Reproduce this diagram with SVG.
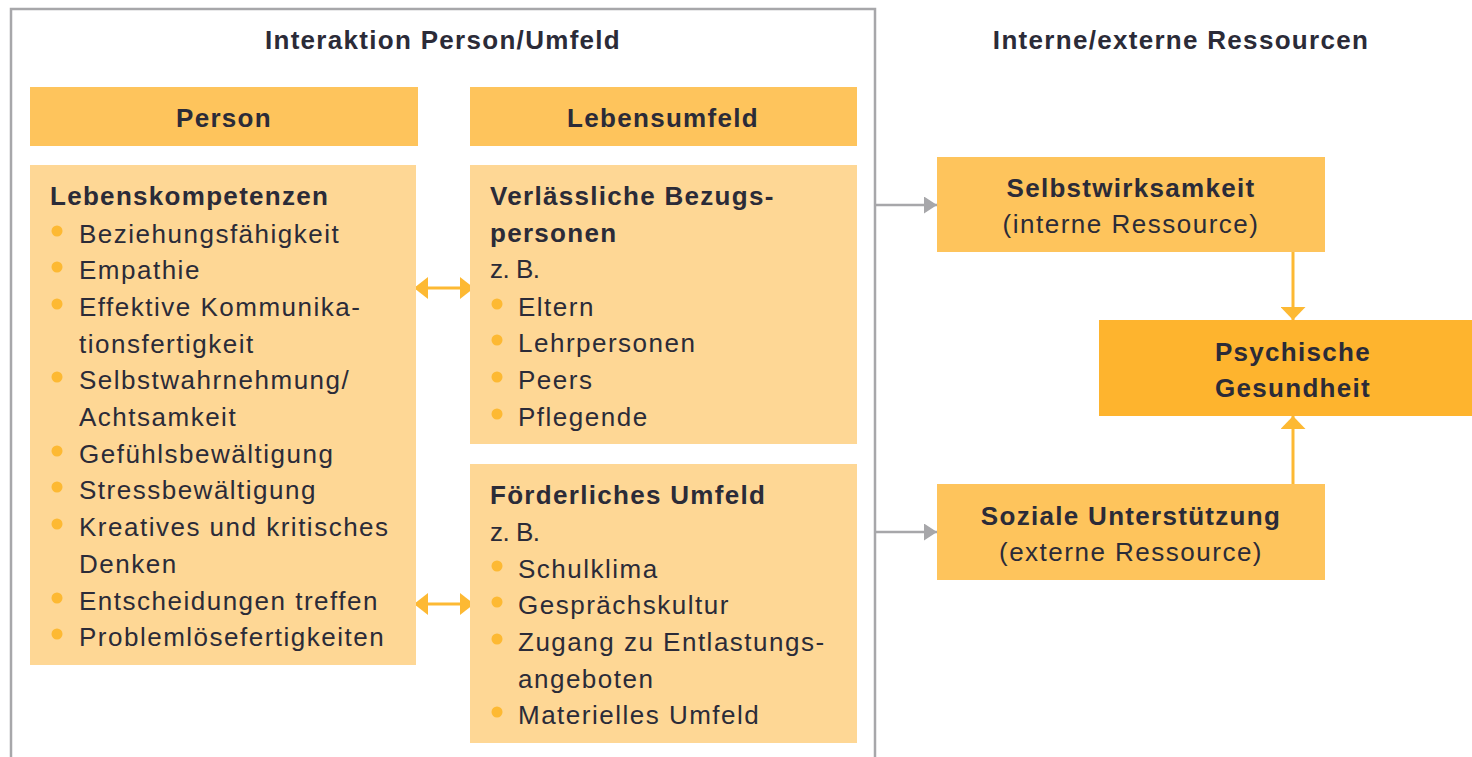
<svg xmlns="http://www.w3.org/2000/svg" width="1472" height="757" viewBox="0 0 1472 757">
<style>
text{font-family:"Liberation Sans",Arial,sans-serif;fill:#2b2b38;font-size:26px;letter-spacing:1.5px}
.b{font-weight:bold;letter-spacing:1.3px}
.c{text-anchor:middle}
.zb{letter-spacing:-0.5px}
.hd{fill:#fec45c}
.ct{fill:#fed795}
.ps{fill:#feb42e}
.dot{fill:#fdb933}
.ga{stroke:#a7a7aa;stroke-width:2.5;fill:none}
.oa{stroke:#fdb933;stroke-width:3;fill:none}
</style>
<defs>
<marker id="mg" viewBox="0 0 13 17" refX="13" refY="8.5" markerWidth="13" markerHeight="17" markerUnits="userSpaceOnUse" orient="auto"><path d="M0,0L13,8.5L0,17Z" fill="#a7a7aa"/></marker>
<marker id="mo" viewBox="0 0 14 22" refX="14" refY="11" markerWidth="14" markerHeight="22" markerUnits="userSpaceOnUse" orient="auto-start-reverse"><path d="M0,0L14,11L0,22Z" fill="#fdb933"/></marker>
<marker id="mv" viewBox="0 0 13 25" refX="13" refY="12.5" markerWidth="13" markerHeight="25" markerUnits="userSpaceOnUse" orient="auto"><path d="M0,0L13,12.5L0,25Z" fill="#fdb933"/></marker>
</defs>
<rect width="1472" height="757" fill="#fff"/>
<g id="frame">
<path d="M11,760V9H875V760" fill="none" stroke="#a7a7aa" stroke-width="2.5"/>
<text class="b c" x="443" y="49">Interaktion Person/Umfeld</text>
</g>
<text class="b c" x="1181" y="49">Interne/externe Ressourcen</text>
<g id="connectors">
<line class="oa" x1="414" y1="288" x2="474" y2="288" marker-start="url(#mo)" marker-end="url(#mo)"/>
<line class="oa" x1="414" y1="604" x2="474" y2="604" marker-start="url(#mo)" marker-end="url(#mo)"/>
<line class="ga" x1="876" y1="205" x2="937" y2="205" marker-end="url(#mg)"/>
<line class="ga" x1="876" y1="532" x2="937" y2="532" marker-end="url(#mg)"/>
<line class="oa" x1="1293" y1="252" x2="1293" y2="320" marker-end="url(#mv)"/>
<line class="oa" x1="1293" y1="484" x2="1293" y2="416" marker-end="url(#mv)"/>
</g>
<g id="person-header">
<rect class="hd" x="30" y="87" width="388" height="59"/>
<text class="b c" x="224" y="127">Person</text>
</g>
<g id="lebensumfeld-header">
<rect class="hd" x="470" y="87" width="387" height="59"/>
<text class="b c" x="663" y="127">Lebensumfeld</text>
</g>
<g id="person">
<rect class="ct" x="30" y="165" width="386" height="500"/>
<text class="b" x="50" y="205">Lebenskompetenzen</text>
<g class="dot">
<circle cx="57" cy="231" r="5.5"/><circle cx="57" cy="267" r="5.5"/><circle cx="57" cy="304" r="5.5"/><circle cx="57" cy="377" r="5.5"/><circle cx="57" cy="451" r="5.5"/><circle cx="57" cy="487" r="5.5"/><circle cx="57" cy="524" r="5.5"/><circle cx="57" cy="598" r="5.5"/><circle cx="57" cy="634" r="5.5"/>
</g>
<text x="79" y="243">Beziehungsfähigkeit</text>
<text x="79" y="279">Empathie</text>
<text x="79" y="316">Effektive Kommunika-</text>
<text x="79" y="353">tionsfertigkeit</text>
<text x="79" y="389">Selbstwahrnehmung/</text>
<text x="79" y="426">Achtsamkeit</text>
<text x="79" y="463">Gefühlsbewältigung</text>
<text x="79" y="499">Stressbewältigung</text>
<text x="79" y="536">Kreatives und kritisches</text>
<text x="79" y="573">Denken</text>
<text x="79" y="610">Entscheidungen treffen</text>
<text x="79" y="646">Problemlösefertigkeiten</text>
</g>
<g id="bezugspersonen">
<rect class="ct" x="470" y="165" width="387" height="279"/>
<text class="b" x="490" y="205">Verlässliche Bezugs-</text>
<text class="b" x="490" y="242">personen</text>
<text class="zb" x="490" y="278">z. B.</text>
<g class="dot"><circle cx="497" cy="304" r="5.5"/><circle cx="497" cy="340" r="5.5"/><circle cx="497" cy="377" r="5.5"/><circle cx="497" cy="414" r="5.5"/></g>
<text x="518" y="316">Eltern</text>
<text x="518" y="352">Lehrpersonen</text>
<text x="518" y="389">Peers</text>
<text x="518" y="426">Pflegende</text>
</g>
<g id="umfeld">
<rect class="ct" x="470" y="464" width="387" height="279"/>
<text class="b" x="490" y="504">Förderliches Umfeld</text>
<text class="zb" x="490" y="541">z. B.</text>
<g class="dot"><circle cx="497" cy="566" r="5.5"/><circle cx="497" cy="602" r="5.5"/><circle cx="497" cy="639" r="5.5"/><circle cx="497" cy="712" r="5.5"/></g>
<text x="518" y="578">Schulklima</text>
<text x="518" y="614">Gesprächskultur</text>
<text x="518" y="651">Zugang zu Entlastungs-</text>
<text x="518" y="688">angeboten</text>
<text x="518" y="724">Materielles Umfeld</text>
</g>
<g id="selbstwirksamkeit">
<rect class="hd" x="937" y="157" width="388" height="95"/>
<text class="b c" x="1131" y="197">Selbstwirksamkeit</text>
<text class="c" x="1131" y="233">(interne Ressource)</text>
</g>
<g id="unterstuetzung">
<rect class="hd" x="937" y="484" width="388" height="96"/>
<text class="b c" x="1131" y="525">Soziale Unterstützung</text>
<text class="c" x="1131" y="561">(externe Ressource)</text>
</g>
<g id="gesundheit">
<rect class="ps" x="1099" y="320" width="373" height="96"/>
<text class="b c" x="1293" y="361">Psychische</text>
<text class="b c" x="1293" y="397">Gesundheit</text>
</g>
</svg>
